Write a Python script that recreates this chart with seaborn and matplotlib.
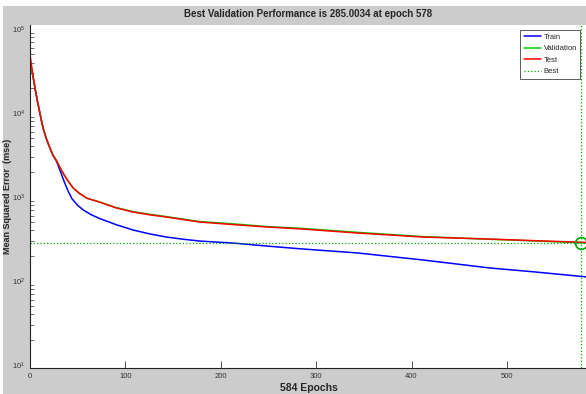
import numpy as np
import pandas as pd
import matplotlib
matplotlib.use("Agg")
import matplotlib.pyplot as plt
import seaborn as sns
from matplotlib.lines import Line2D
from matplotlib.patches import Rectangle

# Values (epoch, mse)
train_epochs = [0, 2, 4, 6, 8, 10, 12, 14, 17, 20, 24, 28, 32, 36, 40, 44, 50, 56, 64, 73, 90, 108, 125, 143, 160, 178, 213, 248, 283, 343, 412, 482, 530, 583]
train_mse = [42000, 32000, 24000, 17800, 13500, 10500, 8130, 6460, 5010, 4070, 3160, 2630, 2000, 1510, 1175, 955, 795, 700, 617, 555, 470, 405, 365, 334, 315, 299, 283, 261, 242, 216, 178, 143, 128, 112]

val_epochs = [0, 2, 4, 6, 8, 10, 12, 14, 17, 20, 24, 28, 32, 36, 40, 45, 52, 60, 73, 90, 108, 125, 143, 178, 213, 248, 283, 343, 412, 482, 530, 578, 584]
val_mse = [42000, 32000, 24000, 17800, 13500, 10500, 8130, 6460, 5010, 4070, 3160, 2690, 2190, 1820, 1550, 1290, 1100, 965, 875, 750, 670, 625, 585, 510, 480, 445, 425, 380, 338, 314, 300, 285, 284]

test_epochs = [0, 2, 4, 6, 8, 10, 12, 14, 17, 20, 24, 28, 32, 36, 40, 45, 52, 60, 73, 90, 108, 125, 143, 178, 213, 248, 283, 343, 412, 482, 530, 584]
test_mse = [50000, 34000, 24500, 17800, 13500, 10500, 8130, 6460, 5010, 4070, 3160, 2690, 2190, 1820, 1550, 1290, 1100, 965, 870, 745, 663, 615, 578, 504, 470, 440, 418, 373, 334, 316, 302, 288]

best_epoch = 578
best_perf = 285.0034
n_epochs = 584

df = pd.concat([
    pd.DataFrame({"epoch": train_epochs, "mse": train_mse, "set": "Train"}),
    pd.DataFrame({"epoch": val_epochs, "mse": val_mse, "set": "Validation"}),
    pd.DataFrame({"epoch": test_epochs, "mse": test_mse, "set": "Test"}),
])
palette = {"Train": "#0000ff", "Validation": "#00cc00", "Test": "#ff0000"}

sns.set_style("white")
plt.rcParams["font.family"] = ["Liberation Sans", "DejaVu Sans"]

fig = plt.figure(figsize=(5.86, 3.94), dpi=100)
fig.patch.set_facecolor("white")
# grey window area (screenshot has a thin white margin top and left)
fig.patches.append(Rectangle((3 / 586, 0), 1, 1 - 6 / 394, transform=fig.transFigure,
                             facecolor="#cccccc", edgecolor="none", zorder=-1))
ax = fig.add_axes([30 / 586, 1 - 368 / 394, 557 / 586, (368 - 25) / 394])
ax.set_facecolor("white")

sns.lineplot(data=df, x="epoch", y="mse", hue="set", palette=palette,
             linewidth=1.1, sort=False, estimator=None, legend=False, ax=ax)

ax.set_yscale("log")
ax.set_xlim(0, n_epochs)
ax.set_ylim(9.2, 1.12e5)

ax.axvline(best_epoch, color="#00aa00", linestyle=":", linewidth=0.9)
ax.axhline(best_perf, color="#00aa00", linestyle=":", linewidth=0.9)
ax.plot([best_epoch], [best_perf], marker="o", markersize=8.5, markerfacecolor="none",
        markeredgecolor="#00aa00", markeredgewidth=1.2, clip_on=False)

ax.set_xticks([0, 100, 200, 300, 400, 500])
ax.set_yticks([10, 100, 1000, 10000, 100000])
ax.tick_params(axis="both", which="both", direction="in", labelsize=5.5,
               labelcolor="#333333", color="#333333")
ax.tick_params(axis="both", which="major", length=5, width=0.6)
ax.tick_params(axis="y", which="minor", length=3, width=0.5, left=True)
ax.tick_params(axis="x", which="both", bottom=True)
ax.yaxis.set_minor_locator(matplotlib.ticker.LogLocator(base=10, subs=np.arange(2, 10)))

for side in ["top", "right"]:
    ax.spines[side].set_visible(False)
for side in ["left", "bottom"]:
    ax.spines[side].set_color("#222222")
    ax.spines[side].set_linewidth(0.8)

ax.set_title("Best Validation Performance is 285.0034 at epoch 578",
             fontsize=7, fontweight="bold", pad=6)
ax.set_xlabel("584 Epochs", fontsize=7.5, fontweight="bold", labelpad=2)
ax.set_ylabel("Mean Squared Error  (mse)", fontsize=6.5, fontweight="bold")
ax.yaxis.set_label_coords(-0.032, 0.5)

handles = [
    Line2D([], [], color=palette["Train"], linewidth=1.1),
    Line2D([], [], color=palette["Validation"], linewidth=1.1),
    Line2D([], [], color=palette["Test"], linewidth=1.1),
    Line2D([], [], color="#00aa00", linestyle=":", linewidth=0.9),
]
leg = ax.legend(handles, ["Train", "Validation", "Test", "Best"], loc="upper right",
                bbox_to_anchor=(0.995, 0.997), fontsize=5.5, frameon=True, fancybox=False,
                handlelength=2.3, handletextpad=0.3, borderpad=0.45, labelspacing=0.55)
leg.get_frame().set_edgecolor("#333333")
leg.get_frame().set_linewidth(0.7)

fig.savefig("out.png", dpi=100, facecolor=fig.get_facecolor())
